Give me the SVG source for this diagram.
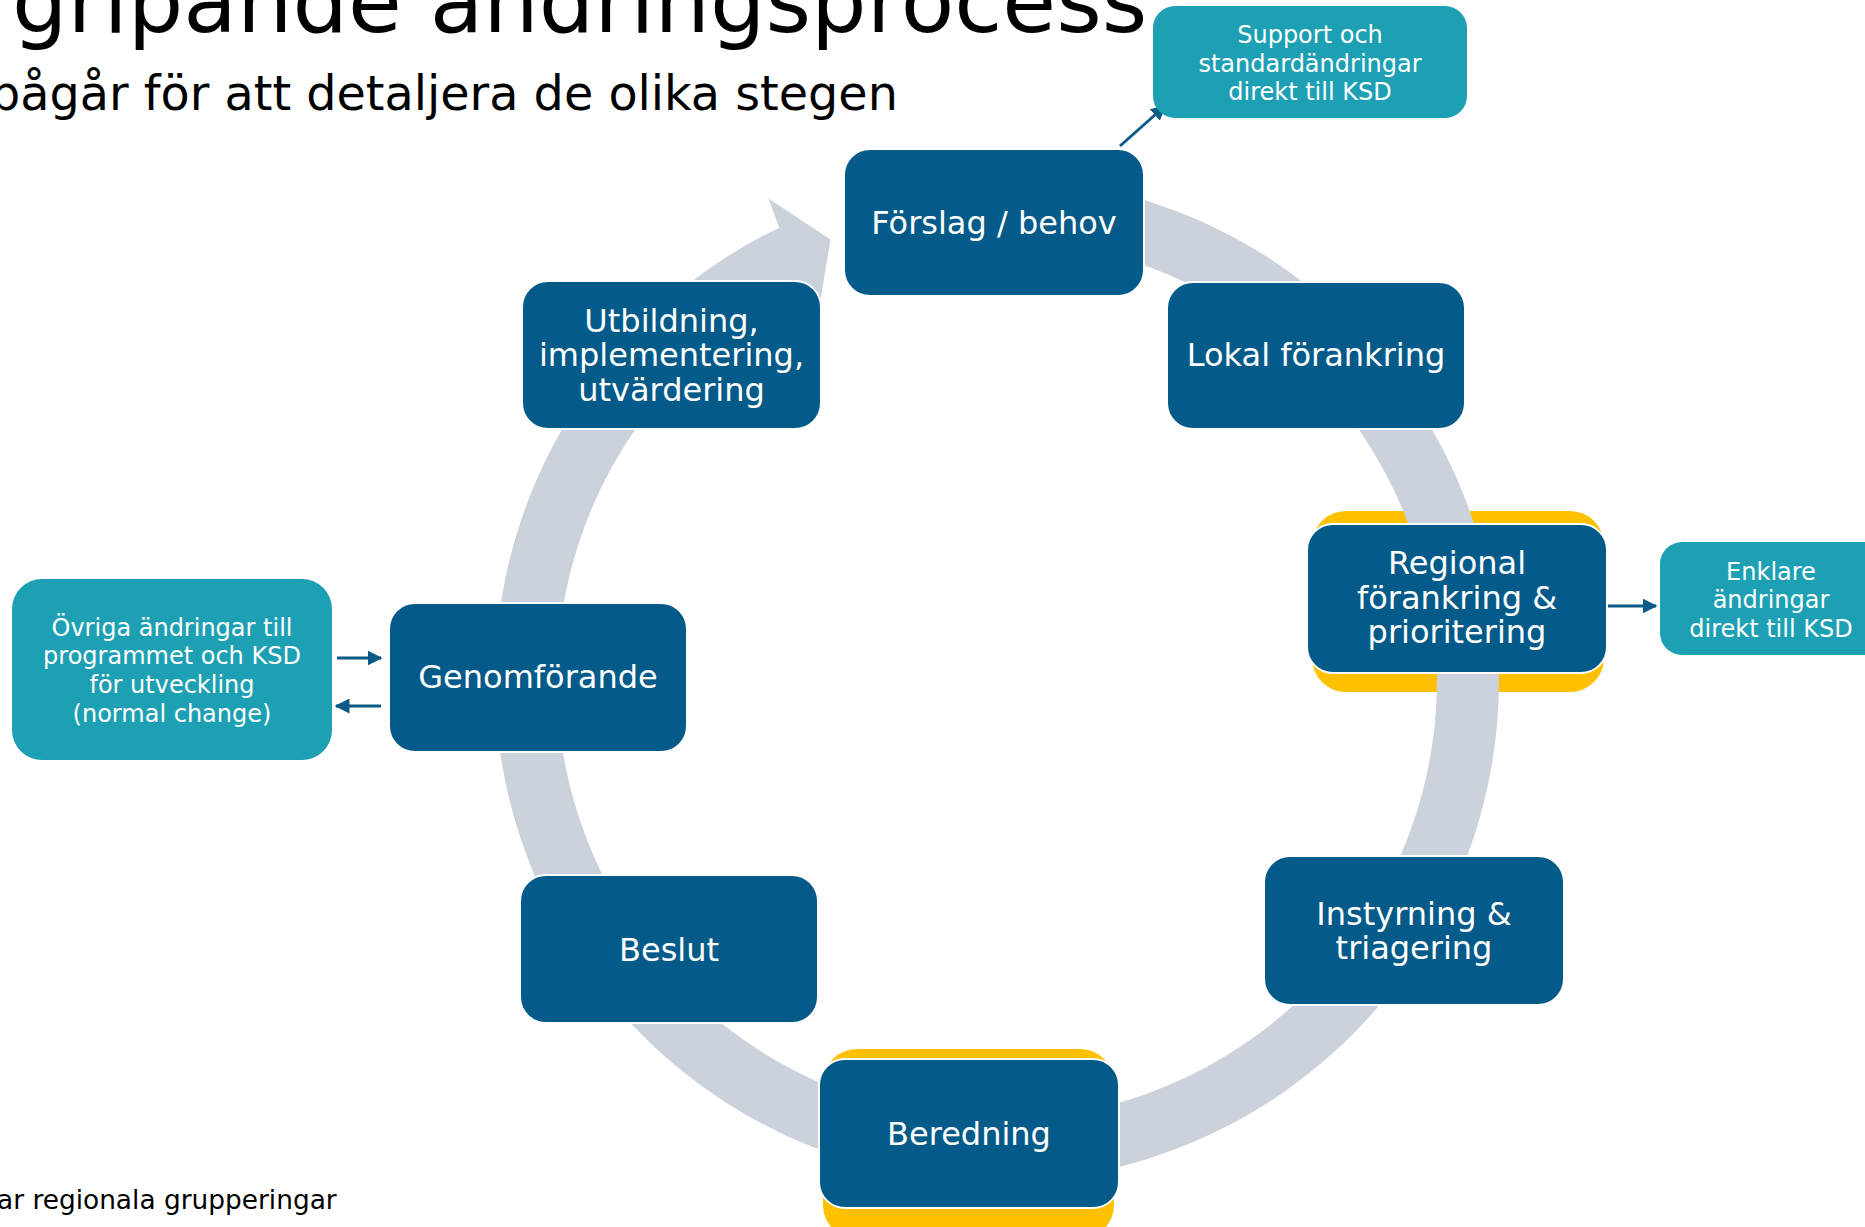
<svg xmlns="http://www.w3.org/2000/svg" width="1865" height="1227" viewBox="0 0 1865 1227">
<style>
.t{font-family:"DejaVu Sans",Verdana,sans-serif;fill:#000}
.n{fill:#045b89;stroke:#fff;stroke-width:2}
.y{fill:#ffc000}
.s{fill:#1ea0b4}
.nt{font-family:"DejaVu Sans",Verdana,sans-serif;fill:#fff;font-size:32px;text-anchor:middle}
.st{font-family:"DejaVu Sans",Verdana,sans-serif;fill:#fff;font-size:24px;text-anchor:middle}
.c{stroke:#0b5a88;stroke-width:3;fill:none;marker-end:url(#ah)}
</style>
<defs>
<marker id="ah" viewBox="0 0 10 10" refX="9" refY="5" markerWidth="5" markerHeight="5" orient="auto" markerUnits="strokeWidth">
<path d="M0,0 L10,5 L0,10 Z" fill="#0b5a88"/>
</marker>
</defs>
<rect width="1865" height="1227" fill="#fff"/>
<text class="t" x="12" y="32" font-size="87.5">gripande ändringsprocess</text>
<text class="t" x="-10" y="110" font-size="47.7">pågår för att detaljera de olika stegen</text>
<text class="t" x="-3" y="1209" font-size="26.4">ar regionala grupperingar</text>

<g id="hl">
<rect class="y" x="1312" y="511" width="292" height="181" rx="34"/>
<rect class="y" x="823" y="1049" width="291" height="190" rx="34"/>
</g>

<path id="ring" fill="#cbd2db" d="M979.48,178.31 A502,502 0 1 1 779.30,227.66 L768.37,198.52 L830.52,239.41 L819.5,306 L806.19,283.52 A440,440 0 1 0 981.64,240.27 Z"/>

<g id="connectors">
<line class="c" x1="1120" y1="146" x2="1165" y2="106"/>
<line class="c" x1="1608" y1="606" x2="1656" y2="606"/>
<line class="c" x1="337" y1="658" x2="381" y2="658"/>
<line class="c" x1="381" y1="706" x2="336" y2="706"/>
</g>

<g id="n1"><rect class="n" x="844" y="149" width="300" height="147" rx="26"/><text class="nt" x="994" y="234">Förslag / behov</text></g>
<g id="n2"><rect class="n" x="1167" y="282" width="298" height="147" rx="26"/><text class="nt" x="1316" y="366">Lokal förankring</text></g>
<g id="n3"><rect class="n" x="1307" y="524" width="300" height="149" rx="26"/><text class="nt" x="1457"><tspan x="1457" y="574">Regional</tspan><tspan x="1457" y="608.5">förankring &amp;</tspan><tspan x="1457" y="643">prioritering</tspan></text></g>
<g id="n4"><rect class="n" x="1264" y="856" width="300" height="149" rx="26"/><text class="nt"><tspan x="1414" y="925">Instyrning &amp;</tspan><tspan x="1414" y="958.5">triagering</tspan></text></g>
<g id="n5"><rect class="n" x="819" y="1059" width="300" height="149" rx="26"/><text class="nt" x="969" y="1145">Beredning</text></g>
<g id="n6"><rect class="n" x="520" y="875" width="298" height="148" rx="26"/><text class="nt" x="669" y="960.5">Beslut</text></g>
<g id="n7"><rect class="n" x="389" y="603" width="298" height="149" rx="26"/><text class="nt" x="538" y="688">Genomförande</text></g>
<g id="n8"><rect class="n" x="522" y="281" width="299" height="148" rx="26"/><text class="nt"><tspan x="671.5" y="331.5">Utbildning,</tspan><tspan x="671.5" y="366">implementering,</tspan><tspan x="671.5" y="400.5">utvärdering</tspan></text></g>

<g id="s1"><rect class="s" x="1153" y="6" width="314" height="112" rx="22"/><text class="st"><tspan x="1310" y="43">Support och</tspan><tspan x="1310" y="71.5">standardändringar</tspan><tspan x="1310" y="100">direkt till KSD</tspan></text></g>
<g id="s2"><rect class="s" x="1660" y="542" width="230" height="113" rx="22"/><text class="st"><tspan x="1771" y="579.5">Enklare</tspan><tspan x="1771" y="608">ändringar</tspan><tspan x="1771" y="636.5">direkt till KSD</tspan></text></g>
<g id="s3"><rect class="s" x="12" y="579" width="320" height="181" rx="30"/><text class="st"><tspan x="172" y="635.5">Övriga ändringar till</tspan><tspan x="172" y="664">programmet och KSD</tspan><tspan x="172" y="693">för utveckling</tspan><tspan x="172" y="722">(normal change)</tspan></text></g>
</svg>
